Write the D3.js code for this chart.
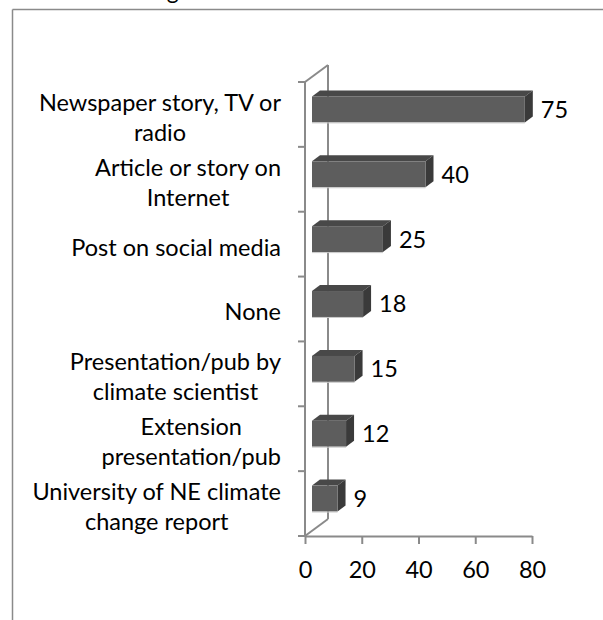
<!DOCTYPE html>
<html>
<head>
<meta charset="utf-8">
<script src="https://cdn.jsdelivr.net/npm/d3@7"></script>
<style>
  html, body { margin: 0; padding: 0; background: #fff; }
  svg { display: block; }
  text { font-family: Lato, "Open Sans", sans-serif; fill: #000; }
</style>
</head>
<body>
<svg id="chart" width="603" height="620"></svg>
<script>
// ---- data ----
const categories = [
  "Newspaper story, TV or|radio",
  "Article or story on|Internet",
  "Post on social media",
  "None",
  "Presentation/pub by|climate scientist",
  "Extension|presentation/pub",
  "University of NE climate|change report"
];
const values = [75, 40, 25, 18, 15, 12, 9];
const xTicks = [0, 20, 40, 60, 80];
const titleText = "of climate change information";

// ---- layout ----
const svg = d3.select("#chart");
const fontSize = 23.5;
const axisColor = "#8a8a8a";

// outer frame
svg.append("line").attr("x1", 12.5).attr("y1", 9.5).attr("x2", 603).attr("y2", 9.5)
  .attr("stroke", axisColor).attr("stroke-width", 1.5);
svg.append("line").attr("x1", 12.5).attr("y1", 9.5).attr("x2", 12.5).attr("y2", 620)
  .attr("stroke", axisColor).attr("stroke-width", 1.5);

// cut-off title above the frame (only its lowest edge is in view)
svg.append("text").attr("x", 14).attr("y", -1).attr("font-size", 23).text(titleText);

const x = d3.scaleLinear().domain([0, 80]).range([305, 532]);
const y = d3.scaleBand().domain(categories).range([82, 536]);

const wallDx = 23, wallDy = -17;     // depth of the 3D floor/wall
const barDx = 7, barDy = -5;         // position of bar front within depth
const depDx = 8, depDy = -6;         // bar thickness
const barH = y.bandwidth() * 0.4;

const y0 = y.range()[0], y1 = y.range()[1];

// back wall line and diagonals
const g = svg.append("g");
g.append("line").attr("x1", x(0) + wallDx).attr("y1", y0 + wallDy)
  .attr("x2", x(0) + wallDx).attr("y2", y1 + wallDy)
  .attr("stroke", axisColor).attr("stroke-width", 2);
g.append("line").attr("x1", x(0)).attr("y1", y0)
  .attr("x2", x(0) + wallDx).attr("y2", y0 + wallDy)
  .attr("stroke", axisColor).attr("stroke-width", 2);
g.append("line").attr("x1", x(0)).attr("y1", y1)
  .attr("x2", x(0) + wallDx).attr("y2", y1 + wallDy)
  .attr("stroke", axisColor).attr("stroke-width", 2);

// front vertical axis + ticks
g.append("line").attr("x1", x(0)).attr("y1", y0).attr("x2", x(0)).attr("y2", y1)
  .attr("stroke", axisColor).attr("stroke-width", 2);
const bandEdges = categories.map(c => y(c)).concat([y1]);
g.selectAll(".ytick").data(bandEdges).join("line")
  .attr("x1", x(0) - 7).attr("x2", x(0))
  .attr("y1", d => d).attr("y2", d => d)
  .attr("stroke", axisColor).attr("stroke-width", 2);

// x axis
const xAxis = svg.append("g").attr("transform", `translate(0,${y1})`)
  .call(d3.axisBottom(x).tickValues(xTicks).tickSize(8).tickPadding(17).tickSizeOuter(0));
xAxis.select(".domain").attr("stroke", axisColor).attr("stroke-width", 2);
xAxis.selectAll(".tick line").attr("stroke", axisColor).attr("stroke-width", 2);
xAxis.selectAll(".tick text").attr("font-size", fontSize).attr("font-family", "Lato, sans-serif").attr("fill", "#000");

// bars
const bars = svg.append("g").selectAll("g").data(categories).join("g");
bars.each(function(c, i) {
  const gb = d3.select(this);
  const v = values[i];
  const left = x(0) + barDx;
  const right = x(v) + barDx;
  const top = y(c) + y.bandwidth() / 2 - barH / 2 + barDy;
  const bot = top + barH;
  // top face
  gb.append("polygon")
    .attr("points", [[left, top], [left + depDx, top + depDy], [right + depDx, top + depDy], [right, top]].join(" "))
    .attr("fill", "#484848");
  // side face
  gb.append("polygon")
    .attr("points", [[right, top], [right + depDx, top + depDy], [right + depDx, bot + depDy], [right, bot]].join(" "))
    .attr("fill", "#3a3a3a");
  // front face
  gb.append("rect").attr("x", left).attr("y", top).attr("width", right - left).attr("height", barH)
    .attr("fill", "#5d5d5d");
  gb.append("line").attr("x1", left).attr("x2", right).attr("y1", bot + 0.5).attr("y2", bot + 0.5)
    .attr("stroke", "#c8c8c8").attr("stroke-width", 1);
  // value label
  gb.append("text").attr("x", right + depDx + 8).attr("y", top + barH / 2)
    .attr("dy", "0.36em").attr("font-size", fontSize).text(v);
});

// category labels (block right-aligned, lines centred)
const labelRight = 281;
const lineH = 30;
categories.forEach((c, i) => {
  const lines = c.split("|");
  const t = svg.append("text").attr("font-size", fontSize).attr("text-anchor", "middle");
  const cy = y(c) + y.bandwidth() / 2 + 3;
  const spans = lines.map((ln, k) => t.append("tspan").text(ln)
    .attr("y", cy + (k - (lines.length - 1) / 2) * lineH).attr("dy", "0.36em"));
  let maxW = 0;
  spans.forEach(s => { maxW = Math.max(maxW, s.node().getComputedTextLength()); });
  spans.forEach(s => s.attr("x", labelRight - maxW / 2));
});
</script>
</body>
</html>
